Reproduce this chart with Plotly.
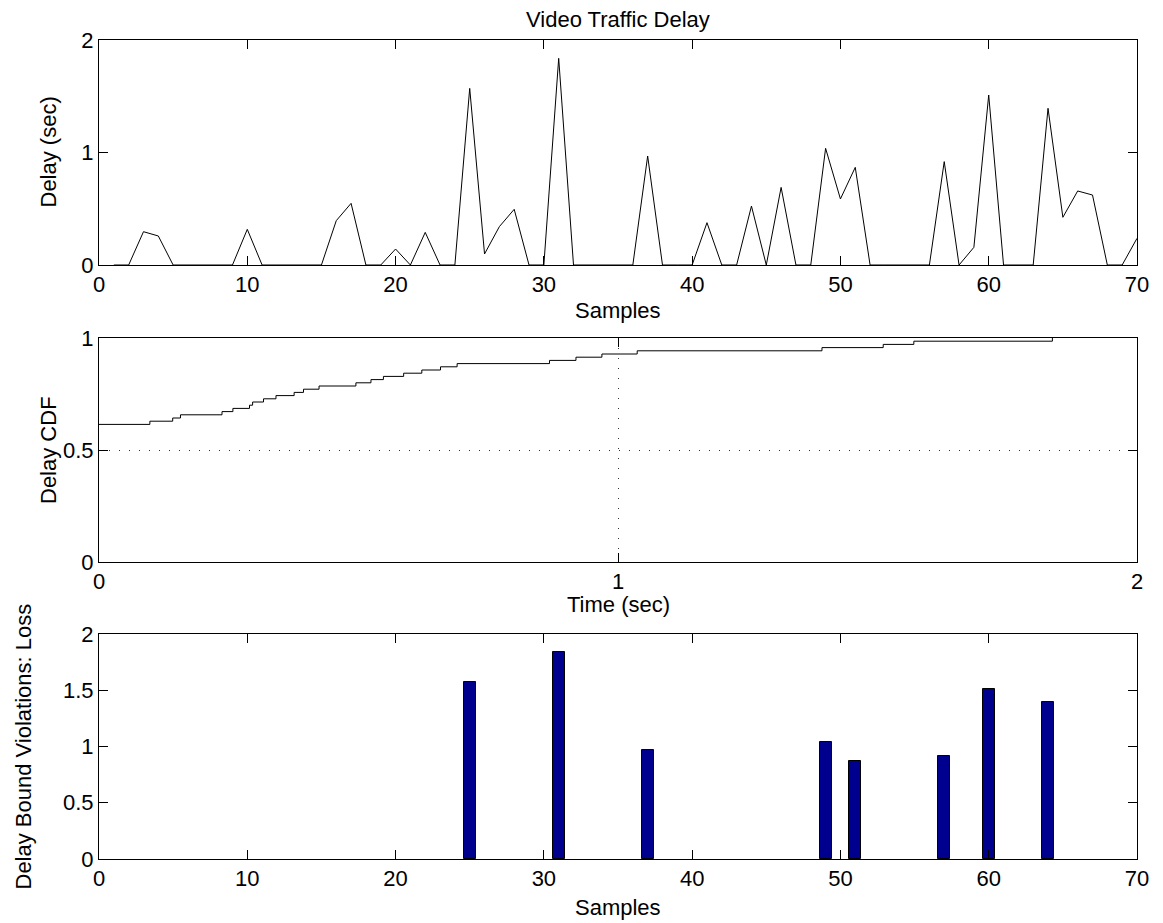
import plotly.graph_objects as go

# ---- Data ----
samples = list(range(1, 71))
delay = [0, 0, 0.296, 0.258, 0, 0, 0, 0, 0, 0.317,
         0, 0, 0, 0, 0, 0.394, 0.548, 0, 0, 0.142,
         0, 0.29, 0, 0, 1.57, 0.098, 0.341, 0.495, 0, 0,
         1.837, 0, 0, 0, 0, 0, 0.969, 0, 0, 0,
         0.376, 0, 0, 0.524, 0, 0.69, 0, 0, 1.037, 0.587,
         0.868, 0, 0, 0, 0, 0, 0.919, 0, 0.157, 1.511,
         0, 0, 0, 1.393, 0.424, 0.658, 0.622, 0, 0, 0.237]
delay_bound = 0.8

top_xticks = [0, 10, 20, 30, 40, 50, 60, 70]
top_yticks = [0, 1, 2]
cdf_xticks = [0, 1, 2]
cdf_yticks = [0, 0.5, 1]
bot_yticks = [0, 0.5, 1, 1.5, 2]

# ---- Derived series ----
n = len(delay)
sorted_vals = sorted(set(delay))
cdf_x = []
cdf_y = []
for v in sorted_vals:
    cdf_x.append(v)
    cdf_y.append(sum(1 for d in delay if d <= v) / n)

loss_x = [s for s, d in zip(samples, delay) if d > delay_bound]
loss_y = [d for d in delay if d > delay_bound]

FONT = "Liberation Sans, Arial, Helvetica, sans-serif"
FS = 22
H = 923.0

fig = go.Figure()
fig.add_trace(go.Scatter(x=samples, y=delay, mode="lines",
                         line=dict(color="black", width=1),
                         xaxis="x", yaxis="y", showlegend=False))
fig.add_trace(go.Scatter(x=cdf_x, y=cdf_y, mode="lines", line_shape="hv",
                         line=dict(color="black", width=1),
                         xaxis="x2", yaxis="y2", showlegend=False))
fig.add_trace(go.Bar(x=loss_x, y=loss_y, width=0.8,
                     marker=dict(color="#00008F", line=dict(color="black", width=1)),
                     xaxis="x3", yaxis="y3", showlegend=False))


def ax(**kw):
    base = dict(showline=True, linecolor="black", linewidth=1, mirror="allticks",
                ticks="inside", ticklen=9, tickwidth=1, tickcolor="black",
                zeroline=False, showgrid=False, automargin=False,
                tickfont=dict(family=FONT, size=FS, color="black"))
    base.update(kw)
    return base


def dom(top_px, bot_px):
    return [1 - bot_px / H, 1 - top_px / H]


fig.update_layout(
    template="none",
    width=1163, height=923,
    margin=dict(l=99, r=26, t=0, b=0, pad=0, autoexpand=False),
    paper_bgcolor="white", plot_bgcolor="white",
    showlegend=False,
    font=dict(family=FONT, size=FS, color="black"),
    xaxis=ax(range=[0, 70], tickvals=top_xticks, anchor="y", domain=[0, 1]),
    yaxis=ax(range=[0, 2], tickvals=top_yticks, anchor="x", domain=dom(40, 265)),
    xaxis2=ax(range=[0, 2], tickvals=cdf_xticks, anchor="y2", domain=[0, 1],
              showgrid=True, gridcolor="#333", griddash="1px,9px", gridwidth=1),
    yaxis2=ax(range=[0, 1], tickvals=cdf_yticks, anchor="x2", domain=dom(338, 562),
              showgrid=True, gridcolor="#333", griddash="1px,9px", gridwidth=1),
    xaxis3=ax(range=[0, 70], tickvals=top_xticks, anchor="y3", domain=[0, 1]),
    yaxis3=ax(range=[0, 2], tickvals=bot_yticks, anchor="x3", domain=dom(634, 859)),
    bargap=0,
)

annots = [
    dict(text="Video Traffic Delay", x=0.5, xref="paper", y=1 - 19 / H, yref="paper"),
    dict(text="Samples", x=0.5, xref="paper", y=1 - 310 / H, yref="paper"),
    dict(text="Time (sec)", x=0.5, xref="paper", y=1 - 604 / H, yref="paper"),
    dict(text="Samples", x=0.5, xref="paper", y=1 - 907 / H, yref="paper"),
]
for a in annots:
    fig.add_annotation(showarrow=False, xanchor="center", yanchor="middle",
                       font=dict(family=FONT, size=FS, color="black"), **a)

ytitles = [
    ("Delay (sec)", 48, (40 + 265) / 2),
    ("Delay CDF", 48, (338 + 562) / 2),
    ("Delay Bound Violations: Loss", 23, (634 + 859) / 2),
]
for text, xpx, ypx in ytitles:
    fig.add_annotation(text=text, showarrow=False, textangle=-90,
                       x=(xpx - 99) / 1038.0, xref="paper", y=1 - ypx / H, yref="paper",
                       xanchor="center", yanchor="middle",
                       font=dict(family=FONT, size=FS, color="black"))

fig.write_html("out.html")
